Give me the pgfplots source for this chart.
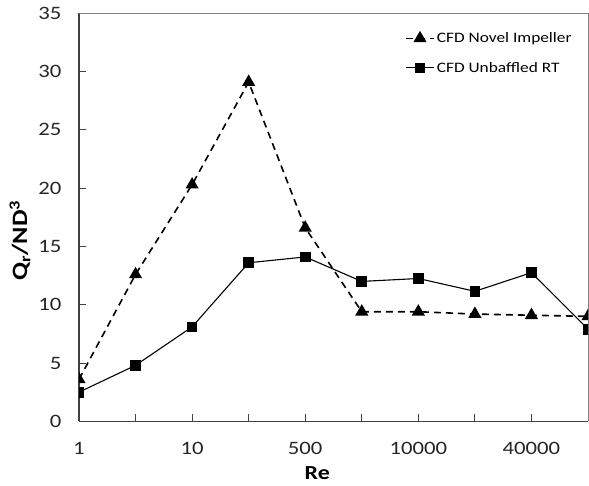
\documentclass[border=0pt]{standalone}
\usepackage{pgfplots}
\pgfplotsset{compat=1.18}
\usepackage{fontspec}
\setmainfont{Carlito}[FakeStretch=1.2]

\definecolor{axisgray}{RGB}{128,128,128}
\definecolor{axisdark}{RGB}{64,64,64}

\begin{document}
\begin{tikzpicture}
\begin{axis}[
    name=ax,
    scale only axis,
    width=509bp, height=408bp,
    xmin=0, xmax=9,
    ymin=0, ymax=35,
    xtick={0,1,2,3,4,5,6,7,8,9},
    xticklabels={1,,10,,500,,10000,,40000,},
    ytick={0,5,10,15,20,25,30,35},
    tick align=inside,
    major tick length=7bp,
    axis x line*=bottom,
    axis y line*=left,
    axis line style={axisdark, line width=1.2bp},
    tick style={axisdark, line width=0.8bp},
    every tick label/.append style={font=\fontsize{19}{21}\selectfont, text=black!85},
    /pgf/number format/assume math mode=true,
    xticklabel style={yshift=-17.5bp},
    yticklabel style={xshift=-14bp},
    xlabel={\textbf{Re}},
    ylabel={\textbf{Q\textsubscript{r}/ND\textsuperscript{3}}},
    xlabel style={font=\fontsize{20}{22}\selectfont, inner sep=0pt,
        at={(axis description cs:0.468,-0.128)}, anchor=center},
    ylabel style={font=\fontsize{22}{24}\selectfont, inner sep=0pt,
        at={(axis description cs:-0.116,0.443)}, anchor=center},
    clip mode=individual,
    clip marker paths=true,
    legend style={draw=none, fill=none, at={(0.6405,0.958)}, anchor=north west,
        font=\fontsize{14.5}{16}\selectfont, row sep=14bp, inner sep=0pt,
        nodes={inner sep=2bp}},
    legend cell align=left,
    legend image code/.code={
        \draw[mark repeat=2,mark phase=2] plot coordinates {(0bp,0bp) (14bp,0bp) (28bp,0bp)};
    },
]
\draw[axisgray, line width=1bp] (rel axis cs:0,1) -- (rel axis cs:1,1) -- (rel axis cs:1,0);

\addplot[black, line width=1.6bp, dash pattern=on 7bp off 5bp,
    mark=triangle*, mark size=6bp, mark options={solid}]
    coordinates {
        (0,3.6) (1,12.6) (2,20.3) (3,29.1) (4,16.6)
        (5,9.4) (6,9.4) (7,9.2) (8,9.1) (9,9.0)
    };
\addlegendentry{CFD Novel Impeller}

\addplot[black, line width=1.1bp,
    mark=square*, mark size=4.8bp]
    coordinates {
        (0,2.5) (1,4.8) (2,8.1) (3,13.6) (4,14.1)
        (5,12.0) (6,12.25) (7,11.15) (8,12.75) (9,7.9)
    };
\addlegendentry{CFD Unbaffled RT}

\end{axis}
\pgfresetboundingbox
\path[use as bounding box] ([xshift=-79bp,yshift=-64.3bp]ax.south west)
    rectangle ([xshift=1bp,yshift=13.3bp]ax.north east);
\end{tikzpicture}
\end{document}
